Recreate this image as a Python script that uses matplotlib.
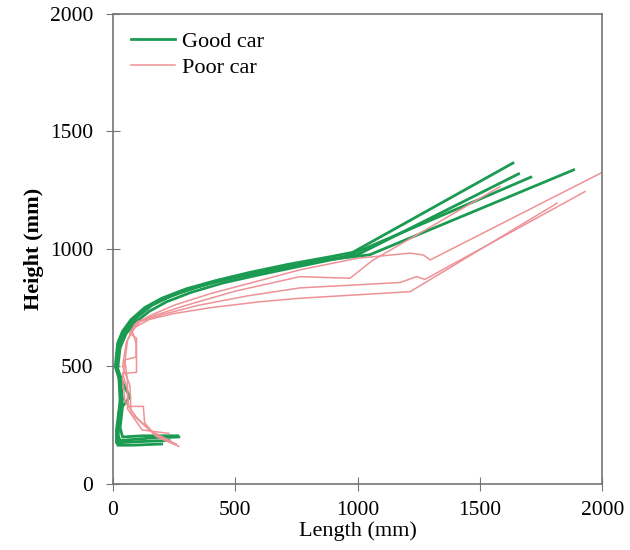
import matplotlib.pyplot as plt

plt.rcParams['font.family'] = ['Liberation Serif', 'DejaVu Serif']

# Good car profiles (length mm, height mm)
good_x = [
    [270, 150, 30, 20, 25, 35, 20, 15, 25, 45, 80, 130, 200, 300, 420, 560, 720, 880, 980, 1635],
    [265, 120, 40, 30, 40, 70, 45, 20, 30, 55, 95, 150, 220, 320, 450, 600, 760, 900, 1000, 1658],
    [230, 100, 15, 15, 30, 25, 10, 20, 40, 75, 120, 190, 290, 420, 580, 750, 960, 1708],
    [200, 80, 20, 25, 40, 30, 15, 35, 60, 100, 160, 240, 350, 500, 680, 850, 1050, 1883],
]
good_y = [
    [200, 195, 185, 210, 300, 400, 480, 520, 600, 650, 700, 750, 790, 830, 865, 900, 935, 965, 985, 1365],
    [205, 205, 200, 240, 330, 370, 420, 490, 580, 640, 690, 735, 775, 815, 855, 890, 925, 955, 975, 1319],
    [185, 180, 175, 230, 350, 450, 500, 600, 650, 700, 740, 780, 820, 860, 895, 930, 970, 1305],
    [170, 165, 165, 260, 360, 450, 510, 610, 660, 710, 760, 800, 840, 880, 920, 950, 975, 1336],
]

# Poor car profiles
poor_x = [
    [270, 180, 130, 125, 65, 60, 40, 97, 97, 70, 90, 150, 250, 400, 600, 765, 1000, 1215, 1269, 1297, 1999],
    [260, 170, 100, 50, 40, 50, 95, 95, 80, 110, 200, 350, 550, 765, 1174, 1242, 1275, 1930],
    [240, 150, 75, 70, 40, 55, 80, 150, 250, 400, 600, 765, 1215, 1815],
    [230, 120, 60, 60, 50, 60, 100, 180, 300, 500, 765, 969, 1060, 1583],
]
poor_y = [
    [160, 200, 260, 330, 330, 400, 470, 475, 620, 640, 680, 715, 760, 810, 865, 911, 960, 982, 974, 953, 1325],
    [170, 210, 280, 350, 450, 528, 540, 600, 650, 690, 720, 760, 800, 834, 857, 882, 870, 1244],
    [180, 230, 300, 420, 500, 600, 660, 700, 725, 750, 775, 790, 818, 1194],
    [215, 230, 320, 440, 520, 610, 690, 720, 760, 820, 882, 875, 950, 1265],
]

fig = plt.figure(figsize=(6.3, 5.5), dpi=100)
ax = fig.add_axes([0.179, 0.12, 0.777, 0.855])

green = '#1b9a52'
pink = '#ee9297'

for i, (xs, ys) in enumerate(zip(good_x, good_y)):
    ax.plot(xs, ys, color=green, lw=2, label='Good car' if i == 0 else None)
for i, (xs, ys) in enumerate(zip(poor_x, poor_y)):
    ax.plot(xs, ys, color=pink, lw=1.1, label='Poor car' if i == 0 else None)

ax.set_xlim(0, 2000)
ax.set_ylim(0, 2000)
ax.set_xticks([0, 500, 1000, 1500, 2000])
ax.set_yticks([0, 500, 1000, 1500, 2000])
ax.tick_params(direction='inout', length=10, color='#757575', labelsize=15.5)
ax.tick_params(axis='y', pad=9)
ax.tick_params(axis='x', pad=7)
for s in ax.spines.values():
    s.set_color('#757575')
    s.set_linewidth(1.2)

ax.set_xlabel('Length (mm)', fontsize=16, labelpad=1)
ax.set_ylabel('Height (mm)', fontsize=16, fontweight='bold', labelpad=4)

ax.legend(loc='upper left', frameon=False, fontsize=16, handlelength=2.0,
          handletextpad=0.3, labelspacing=0.25, borderaxespad=0.4)

fig.savefig('out.png', dpi=100)
